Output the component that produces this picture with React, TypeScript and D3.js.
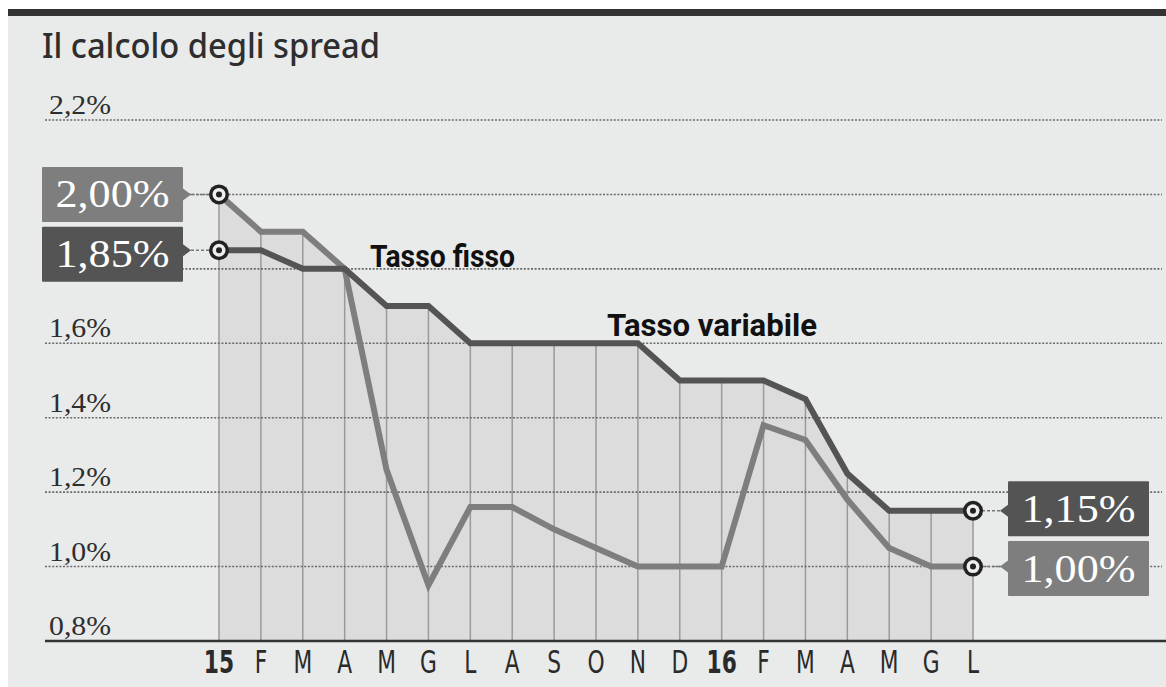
import React from "react";
import * as d3 from "d3";

// mesi (gen 2015 - lug 2016)
const months = ["15", "F", "M", "A", "M", "G", "L", "A", "S", "O", "N", "D", "16", "F", "M", "A", "M", "G", "L"];
const yearIdx = [0, 12];

// spread in %
const tassoVariabile = [1.85, 1.85, 1.8, 1.8, 1.7, 1.7, 1.6, 1.6, 1.6, 1.6, 1.6, 1.5, 1.5, 1.5, 1.45, 1.25, 1.15, 1.15, 1.15];
const tassoFisso = [2.0, 1.9, 1.9, 1.8, 1.26, 0.95, 1.16, 1.16, 1.1, 1.05, 1.0, 1.0, 1.0, 1.38, 1.34, 1.18, 1.05, 1.0, 1.0];

const yTicks = [0.8, 1.0, 1.2, 1.4, 1.6, 1.8, 2.0, 2.2];
const hiddenTicks = [1.8, 2.0];

const W = 1166;
const H = 687;

const fmt = (v: number, d: number) => v.toFixed(d).replace(".", ",") + "%";

export default function App() {
  const x = d3.scalePoint<number>().domain(d3.range(months.length)).range([219, 973]);
  const y = d3.scaleLinear().domain([0.8, 2.2]).range([641, 120]);

  const top = months.map((_, i) => Math.max(tassoVariabile[i], tassoFisso[i]));

  const area = d3
    .area<number>()
    .x((_, i) => x(i)!)
    .y0(y(0.8))
    .y1((d) => y(d));

  const line = d3
    .line<number>()
    .x((_, i) => x(i)!)
    .y((d) => y(d));

  const dark = "#545454";
  const light = "#7e7e7e";

  const last = months.length - 1;
  const badges = [
    { v: tassoFisso[0], px: x(0)!, col: light, side: "left", dy: 0 },
    { v: tassoVariabile[0], px: x(0)!, col: dark, side: "left", dy: 4 },
    { v: tassoVariabile[last], px: x(last)!, col: dark, side: "right", dy: -2 },
    { v: tassoFisso[last], px: x(last)!, col: light, side: "right", dy: 2 },
  ];

  const bw = 141;
  const bh = 55;
  const serif = "Liberation Serif, Times New Roman, serif";

  return (
    <svg width={W} height={H} style={{ position: "absolute", left: 0, top: 0 }}>
      <rect x={0} y={0} width={W} height={H} fill="#ffffff" />
      <rect x={8} y={16} width={W - 8} height={H - 16} fill="#e9eaea" />
      <rect x={8} y={9} width={W - 8} height={7} fill="#333333" />

      <text
        x={42}
        y={58}
        fontFamily="Noto Sans, Open Sans, sans-serif"
        fontWeight={500}
        fontSize={34}
        fill="#2e2e2e"
        textLength={338}
        lengthAdjust="spacingAndGlyphs"
      >
        Il calcolo degli spread
      </text>

      {/* area sotto la linea più alta */}
      <path d={area(top) || ""} fill="#dcdcdc" />
      {top.map((v, i) => (
        <line key={"v" + i} x1={x(i)} x2={x(i)} y1={y(v)} y2={y(0.8)} stroke="#9a9a9a" strokeWidth={1.5} />
      ))}

      {/* griglia */}
      {yTicks
        .filter((t) => t > 0.8)
        .map((t) => (
          <line
            key={"g" + t}
            x1={45}
            x2={1162}
            y1={y(t)}
            y2={y(t)}
            stroke="#6a6a6a"
            strokeWidth={1.6}
            strokeDasharray="2,1.6"
          />
        ))}
      <line x1={45} x2={W} y1={y(0.8)} y2={y(0.8)} stroke="#333" strokeWidth={2.5} />

      {yTicks
        .filter((t) => !hiddenTicks.includes(t))
        .map((t) => (
          <text
            key={"t" + t}
            x={49}
            y={y(t) - 6}
            fontFamily={serif}
            fontSize={27}
            fill="#2e2e2e"
            textLength={62}
            lengthAdjust="spacingAndGlyphs"
          >
            {fmt(t, 1)}
          </text>
        ))}

      {/* linee */}
      <path d={line(tassoFisso) || ""} fill="none" stroke={light} strokeWidth={6} strokeLinejoin="miter" />
      <path d={line(tassoVariabile) || ""} fill="none" stroke={dark} strokeWidth={6} strokeLinejoin="miter" />

      <text x={370} y={267} fontFamily="Roboto, sans-serif" fontWeight={700} fontSize={31} fill="#111" textLength={145} lengthAdjust="spacingAndGlyphs">
        Tasso fisso
      </text>
      <text x={607} y={336} fontFamily="Roboto, sans-serif" fontWeight={700} fontSize={31} fill="#111" textLength={210} lengthAdjust="spacingAndGlyphs">
        Tasso variabile
      </text>

      {/* etichette laterali */}
      {badges.map((b, i) => {
        const py = y(b.v);
        const cy = py + b.dy;
        const left = b.side === "left";
        const bx = left ? 42 : 1008;
        const by = cy - bh / 2;
        const tipX = left ? bx + bw + 8 : bx - 8;
        const edge = left ? bx + bw : bx;
        const notch = `M${edge},${py - 6}L${tipX},${py}L${edge},${py + 6}Z`;
        return (
          <g key={"b" + i}>
            <line
              x1={tipX}
              x2={b.px}
              y1={py}
              y2={py}
              stroke="#777"
              strokeWidth={1.6}
              strokeDasharray="3,2"
            />
            <rect x={bx} y={by} width={bw} height={bh} fill={b.col} rx={1} />
            <path d={notch} fill={b.col} />
            <text
              x={bx + bw / 2}
              y={cy + 13}
              textAnchor="middle"
              fontFamily={serif}
              fontSize={40}
              fill="#fff"
              textLength={114}
              lengthAdjust="spacingAndGlyphs"
            >
              {fmt(b.v, 2)}
            </text>
            <circle cx={b.px} cy={py} r={10} fill="#222" />
            <circle cx={b.px} cy={py} r={6.5} fill="#eee" />
            <circle cx={b.px} cy={py} r={3} fill="#222" />
          </g>
        );
      })}

      {/* asse x */}
      {months.map((m, i) => {
        const bold = yearIdx.includes(i);
        return (
          <text
            key={"m" + i}
            transform={`translate(${x(i)},673) scale(0.68,1)`}
            textAnchor="middle"
            fontFamily="DejaVu Sans, sans-serif"
            fontWeight={bold ? 700 : 400}
            fontSize={32}
            fill="#2a2a2a"
          >
            {m}
          </text>
        );
      })}
    </svg>
  );
}
